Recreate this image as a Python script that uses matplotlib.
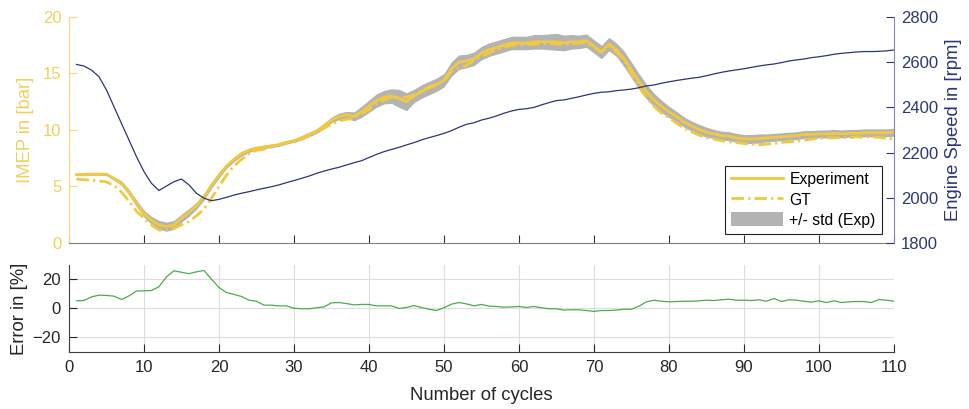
import numpy as np
import matplotlib
matplotlib.use('Agg')
import matplotlib.pyplot as plt
from matplotlib.lines import Line2D
from matplotlib.patches import Patch

plt.rcParams['font.family'] = ['Liberation Sans', 'DejaVu Sans']

cycles = np.arange(1, 111)

# IMEP measured (mean over repetitions) [bar]
imep_exp = [6.05, 6.08, 6.1, 6.1, 6.08, 5.7, 5.3, 4.5, 3.5, 2.6, 2.0, 1.6, 1.45, 1.6, 2.2, 2.7, 3.3, 4.1,
            5.1, 6.0, 6.8, 7.4, 7.9, 8.2, 8.4, 8.5, 8.6, 8.7, 8.9, 9.05, 9.3, 9.6, 9.9, 10.35, 10.9, 11.2, 11.35,
            11.2, 11.6, 12.1, 12.6, 12.9, 13.0, 12.8, 12.5, 13.0, 13.4, 13.7, 14.0, 14.4, 15.4, 16.0, 16.1, 16.3, 16.8,
            17.1, 17.3, 17.5, 17.7, 17.7, 17.7, 17.8, 17.8, 17.8, 17.8, 17.7, 17.8, 17.8, 17.9, 17.4, 16.9, 17.6, 17.1,
            16.3, 15.3, 14.3, 13.4, 12.65, 12.1, 11.6, 11.2, 10.7, 10.35, 10.05, 9.8, 9.65, 9.5, 9.45, 9.3, 9.2, 9.2, 9.25,
            9.3, 9.35, 9.4, 9.45, 9.5, 9.6, 9.6, 9.65, 9.65, 9.7, 9.65, 9.7, 9.7, 9.75, 9.75, 9.75, 9.75, 9.8]

# IMEP simulated (GT) [bar]
imep_gt = [5.65, 5.6, 5.55, 5.5, 5.4, 5.1, 4.5, 3.7, 2.8, 2.2, 1.6, 1.15, 1.1, 1.3, 1.6, 1.9, 2.4, 3.0,
           3.95, 5.0, 6.0, 6.8, 7.4, 7.9, 8.2, 8.3, 8.5, 8.7, 8.9, 9.0, 9.2, 9.5, 9.8, 10.15, 10.5, 10.8, 10.95,
           11.0, 11.4, 11.8, 12.3, 12.65, 12.9, 12.9, 12.9, 13.1, 13.45, 13.8, 14.1, 14.3, 15.2, 15.5, 15.7, 16.2, 16.5,
           16.8, 17.1, 17.3, 17.5, 17.5, 17.6, 17.6, 17.6, 17.7, 17.6, 17.6, 17.6, 17.7, 17.7, 17.3, 16.9, 17.4, 16.9,
           16.2, 15.0, 13.8, 12.9, 12.1, 11.5, 11.1, 10.6, 10.15, 9.85, 9.55, 9.3, 9.2, 9.05, 8.95, 8.9, 8.8, 8.75, 8.7,
           8.75, 8.8, 8.9, 8.95, 9.0, 9.1, 9.2, 9.25, 9.3, 9.3, 9.35, 9.3, 9.4, 9.35, 9.4, 9.35, 9.25, 9.2]

# standard deviation of the measured IMEP [bar]
imep_std = [0.1, 0.1, 0.1, 0.1, 0.12, 0.15, 0.2, 0.25, 0.3, 0.3, 0.35, 0.4, 0.4, 0.4, 0.35, 0.35, 0.3, 0.3,
            0.25, 0.25, 0.2, 0.2, 0.2, 0.2, 0.15, 0.15, 0.15, 0.15, 0.15, 0.15, 0.2, 0.2, 0.2, 0.25, 0.25, 0.3, 0.3,
            0.4, 0.5, 0.55, 0.6, 0.6, 0.65, 0.8, 0.8, 0.6, 0.6, 0.6, 0.6, 0.6, 0.65, 0.65, 0.6, 0.6, 0.6,
            0.6, 0.6, 0.6, 0.6, 0.6, 0.6, 0.65, 0.65, 0.7, 0.75, 0.7, 0.65, 0.6, 0.6, 0.6, 0.6, 0.6, 0.6,
            0.7, 0.7, 0.7, 0.65, 0.6, 0.55, 0.5, 0.45, 0.45, 0.45, 0.45, 0.45, 0.4, 0.4, 0.4, 0.4, 0.4, 0.4, 0.4,
            0.35, 0.35, 0.35, 0.35, 0.35, 0.35, 0.35, 0.35, 0.35, 0.35, 0.35, 0.35, 0.35, 0.35, 0.35, 0.35, 0.35, 0.35]

# engine speed [rpm]
speed = [2590, 2583, 2565, 2536, 2477, 2403, 2329, 2256, 2182, 2116, 2064, 2032, 2052, 2071, 2083, 2057, 2020, 1998,
         1987, 1993, 2002, 2012, 2020, 2027, 2035, 2042, 2049, 2057, 2067, 2076, 2086, 2096, 2108, 2118, 2127, 2135, 2145,
         2155, 2164, 2178, 2192, 2204, 2214, 2223, 2234, 2244, 2256, 2266, 2275, 2285, 2297, 2312, 2325, 2332, 2344,
         2352, 2362, 2374, 2384, 2391, 2394, 2400, 2411, 2421, 2430, 2433, 2440, 2447, 2455, 2462, 2467, 2469, 2474,
         2477, 2481, 2487, 2495, 2499, 2507, 2513, 2519, 2524, 2529, 2533, 2540, 2548, 2555, 2561, 2566, 2571, 2577, 2583,
         2588, 2592, 2598, 2605, 2610, 2614, 2620, 2624, 2629, 2635, 2639, 2642, 2645, 2647, 2647, 2648, 2650, 2654]

# relative error GT vs experiment [%]
error = [5.3, 5.5, 8, 9.2, 9, 8.5, 6.2, 8.7, 12, 12.2, 12.4, 15, 21.8, 26, 25, 24, 25.3, 26.2, 20.2, 14.5,
         11, 9.7, 8.3, 5.7, 5, 2.3, 2.3, 1.8, 1.8, 0.2, -0.2, -0.2, 0.5, 1.1, 3.9, 4.1, 3.4, 2.5, 2.8, 2.8,
         1.8, 1.8, 1.8, 0, 0.7, 2, 0.7, -0.5, -1.4, 0.5, 3, 4.1, 3.2, 1.8, 2.8, 1.6, 1.4, 0.9, 1.1, 1.4,
         0.7, 1.4, 0.5, -0.2, -0.2, -1.1, -0.9, -0.9, -1.4, -2, -1.4, -1.4, -1.1, -0.5, -0.5, 1.6, 4.6, 5.7, 5, 4.6,
         4.8, 5, 5, 5.3, 5.7, 5.5, 6, 6.4, 5.7, 5.7, 5.5, 6, 5, 6.9, 4.8, 6, 5.7, 5, 4.4, 5.3,
         4.1, 5.3, 4.1, 4.6, 4.8, 4.8, 4.1, 6.2, 5.7, 5]

yellow = '#F0C93F'
yellow_txt = '#F2D05A'
navy = '#2C3677'
gray_band = '#B3B3B3'
green = '#4DAA50'
dark = '#262626'
dashdot = (0, (4.5, 1.5, 0.8, 1.5))

imep_exp = np.array(imep_exp)
imep_std = np.array(imep_std)

fig = plt.figure(figsize=(9.7, 4.09), dpi=100)

# ---- top panel: IMEP and engine speed
ax1 = fig.add_axes([0.0711, 0.4059, 0.8505, 0.5526])
ax1.fill_between(cycles, imep_exp - imep_std, imep_exp + imep_std, color=gray_band, lw=0)
ax1.plot(cycles, imep_exp, color=yellow, lw=2)
ax1.plot(cycles, imep_gt, color=yellow, lw=2, ls=dashdot)
ax1.set_xlim(0, 110)
ax1.set_ylim(0, 20)
ax1.set_xticks(np.arange(0, 111, 10))
ax1.set_yticks([0, 5, 10, 15, 20])
ax1.tick_params(axis='x', direction='in', length=6, colors='#333333', labelbottom=False)
ax1.tick_params(axis='y', direction='in', length=6, color='#F3D977', labelcolor=yellow_txt,
                labelsize=12, pad=5.5)
ax1.spines['top'].set_visible(False)
ax1.spines['right'].set_visible(False)
ax1.spines['left'].set_color('#F3D977')
ax1.spines['bottom'].set_color('#7f7f7f')
ax1.set_ylabel('IMEP in [bar]', color=yellow_txt, fontsize=13.3)
ax1.yaxis.set_label_coords(-0.0424, 0.5)

ax2 = ax1.twinx()
ax2.plot(cycles, speed, color=navy, lw=0.9)
ax2.set_ylim(1800, 2800)
ax2.set_yticks(np.arange(1800, 2801, 200))
ax2.tick_params(axis='y', direction='in', length=6, colors=navy, labelsize=12, pad=5)
for s in ['top', 'left', 'bottom']:
    ax2.spines[s].set_visible(False)
ax2.spines['right'].set_color('#8088B0')
ax2.set_ylabel('Engine Speed in [rpm]', color=navy, fontsize=13.3)
ax2.yaxis.set_label_coords(1.062, 0.5)

handles = [
    Line2D([0], [0], color=yellow, lw=2, label='Experiment'),
    Line2D([0], [0], color=yellow, lw=2, ls=dashdot, label='GT'),
    Patch(facecolor=gray_band, edgecolor='none', label='+/- std (Exp)'),
]
leg = ax2.legend(handles=handles, loc='lower right', bbox_to_anchor=(0.9855, 0.04), borderaxespad=0,
                 fontsize=11.3, frameon=True, fancybox=False, framealpha=1, edgecolor='#222222',
                 handlelength=3.3, handleheight=1.0, handletextpad=0.4, borderpad=0.4, labelspacing=0.3)
leg.get_frame().set_linewidth(0.8)

# ---- bottom panel: error
ax3 = fig.add_axes([0.0711, 0.1394, 0.8505, 0.2127])
ax3.plot(cycles, error, color=green, lw=0.9)
ax3.set_xlim(0, 110)
ax3.set_ylim(-30, 30)
ax3.set_xticks(np.arange(0, 111, 10))
ax3.set_yticks([-20, 0, 20])
ax3.grid(True, color='#DDDDDD', lw=0.8)
ax3.set_axisbelow(True)
ax3.tick_params(direction='in', length=5.5, colors=dark, labelsize=12, pad=6)
ax3.spines['top'].set_visible(False)
ax3.spines['right'].set_visible(False)
ax3.spines['left'].set_color('#404040')
ax3.spines['bottom'].set_color('#404040')
ax3.set_ylabel('Error in [%]', color=dark, fontsize=13.3)
ax3.yaxis.set_label_coords(-0.05, 0.5)
ax3.set_xlabel('Number of cycles', color=dark, fontsize=13.3)
ax3.xaxis.set_label_coords(0.5, -0.40)

fig.savefig('out.png', dpi=100)
